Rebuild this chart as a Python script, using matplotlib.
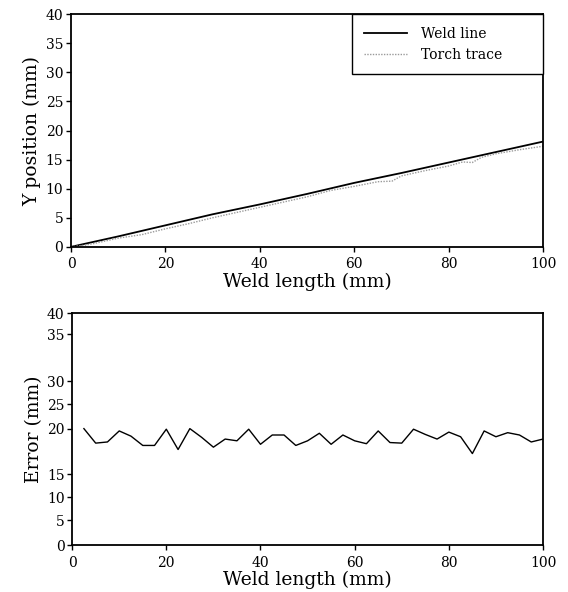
import matplotlib
matplotlib.use("Agg")
import matplotlib.pyplot as plt

plt.rcParams['font.family'] = ['DejaVu Serif']

# Top chart: weld line vs torch trace
weld_x = [0, 10, 20, 30, 40, 50, 60, 70, 80, 90, 100]
weld_y = [0, 1.8, 3.7, 5.6, 7.3, 9.1, 11.0, 12.7, 14.5, 16.3, 18.1]

torch_x = [0, 3, 5, 10, 15, 20, 25, 30, 35, 40, 45, 50, 55, 60, 65, 68, 70,
           75, 80, 83, 85, 87, 90, 95, 100]
torch_y = [0, 0.3, 0.6, 1.5, 2.1, 3.1, 4.0, 5.0, 5.9, 6.8, 7.7, 8.6, 9.7,
           10.4, 11.2, 11.3, 12.2, 13.1, 13.9, 14.6, 14.5, 15.4, 16.0, 16.7, 17.3]

# Bottom chart: error along the weld
err_x = [2.5 * k for k in range(1, 41)]
err_y = [20.1, 17.6, 17.8, 19.7, 18.8, 17.2, 17.2, 20.0, 16.5, 20.1,
         18.6, 16.9, 18.3, 18.0, 20.0, 17.4, 19.0, 19.0, 17.2, 18.0,
         19.3, 17.4, 19.0, 18.0, 17.5, 19.7, 17.7, 17.6, 20.0, 19.1,
         18.3, 19.5, 18.7, 15.8, 19.7, 18.7, 19.4, 19.0, 17.8, 18.3]

x_ticks = [0, 20, 40, 60, 80, 100]
top_y_ticks = [0, 5, 10, 15, 20, 25, 30, 35, 40]
# the lower axis in the original has unevenly placed ticks
err_tick_pos = [0, 4.3, 8.3, 12.2, 20.1, 24.3, 28.3, 36.4, 40]
err_tick_labels = ['0', '5', '10', '15', '20', '25', '30', '35', '40']

fig = plt.figure(figsize=(5.68, 5.92), dpi=100)
ax1 = fig.add_axes([0.125, 0.583, 0.831, 0.393])
ax2 = fig.add_axes([0.127, 0.079, 0.829, 0.392])


def style_axis(ax):
    for s in ax.spines.values():
        s.set_linewidth(1.3)
        s.set_color('black')
    ax.tick_params(direction='out', length=3.5, width=1, labelsize=10,
                   top=False, right=False)
    ax.tick_params(axis='x', pad=4)
    ax.tick_params(axis='y', pad=2)


ax1.plot(weld_x, weld_y, color='black', lw=1.3, label='Weld line')
ax1.plot(torch_x, torch_y, color='#9a9a9a', lw=1.0, ls=(0, (1, 1)), label='Torch trace')
ax1.set_xlim(0, 100)
ax1.set_ylim(0, 40)
ax1.set_xticks(x_ticks)
ax1.set_yticks(top_y_ticks)
ax1.set_xlabel('Weld length (mm)', fontsize=13.5, labelpad=1)
ax1.set_ylabel('Y position (mm)', fontsize=13.5, labelpad=3)
style_axis(ax1)
leg = ax1.legend(loc='upper left', bbox_to_anchor=(0.595, 0.0, 0.405, 1.0),
                 mode='expand', borderaxespad=0, fancybox=False,
                 edgecolor='black', fontsize=10, handlelength=3.1,
                 labelspacing=0.5, borderpad=0.9, handletextpad=1.0)
leg.get_frame().set_linewidth(1.0)
leg.get_frame().set_alpha(1)

ax2.plot(err_x, err_y, color='black', lw=1.0)
ax2.set_xlim(0, 100)
ax2.set_ylim(0, 40)
ax2.set_xticks(x_ticks)
ax2.set_yticks(err_tick_pos)
ax2.set_yticklabels(err_tick_labels)
ax2.set_xlabel('Weld length (mm)', fontsize=13.5, labelpad=1)
ax2.set_ylabel('Error (mm)', fontsize=13.5, labelpad=3)
style_axis(ax2)

fig.savefig('out.png', dpi=100)
